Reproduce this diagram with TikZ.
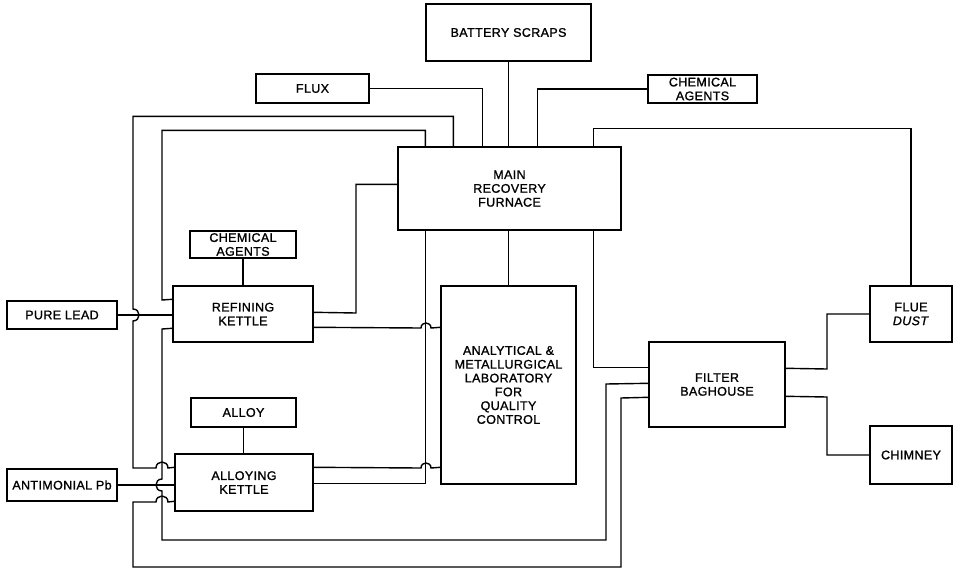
\documentclass[tikz,border=0pt]{standalone}
\usepackage{fontspec}
\setmainfont{Liberation Sans}[LetterSpace=3,FakeBold=1.2]
\usetikzlibrary{calc}
\tikzset{
  blk/.style={draw, line width=1.4pt, inner sep=0pt, align=center,
    font=\fontsize{12.5}{13.8}\selectfont},
  wire/.style={line width=1.4pt, line join=miter}
}
\begin{document}
\begin{tikzpicture}[x=1pt,y=-1pt]
\useasboundingbox[fill=white] (0,0) rectangle (953,568);
% boxes
\node[blk, minimum width=165pt, minimum height=57pt] (battery) at (508.5,32.5) {BATTERY SCRAPS};
\node[blk, minimum width=109pt, minimum height=28pt] (chemtop) at (702.5,89) {CHEMICAL\\AGENTS};
\node[blk, minimum width=113pt, minimum height=29pt] (flux) at (312.5,88.5) {FLUX};
\node[blk, minimum width=223pt, minimum height=83pt] (furnace) at (509.5,188.5) {MAIN\\RECOVERY\\FURNACE};
\node[blk, minimum width=106pt, minimum height=27pt] (chemleft) at (243,244.5) {CHEMICAL\\AGENTS};
\node[blk, minimum width=140pt, minimum height=56pt] (refining) at (243,314) {REFINING\\KETTLE};
\node[blk, minimum width=110pt, minimum height=28pt] (purelead) at (62,315) {PURE LEAD};
\node[blk, minimum width=135pt, minimum height=198pt] (lab) at (508.5,385) {ANALYTICAL \&\\METALLURGICAL\\LABORATORY\\FOR\\QUALITY\\CONTROL};
\node[blk, minimum width=136pt, minimum height=85pt] (filter) at (717,384.5) {FILTER\\BAGHOUSE};
\node[blk, minimum width=82pt, minimum height=56pt] (fluedust) at (911,314) {FLUE\\\textit{DUST}};
\node[blk, minimum width=82pt, minimum height=58pt] (chimney) at (911,455) {CHIMNEY};
\node[blk, minimum width=105pt, minimum height=29pt] (alloy) at (243.5,412.5) {ALLOY};
\node[blk, minimum width=138pt, minimum height=57pt] (alloying) at (244,482.5) {ALLOYING\\KETTLE};
\node[blk, minimum width=110pt, minimum height=32pt] (antimonial) at (62,485) {ANTIMONIAL Pb};
% connectors into furnace top
\draw[wire] (battery.south) -- (battery.south |- furnace.north);
\draw[wire] (flux.east) -| ($(furnace.north west)+(85,0)$);
\draw[wire] (chemtop.west) -| ($(furnace.north west)+(140,0)$);
% outer loop: furnace -> alloying kettle
\draw[wire] ($(furnace.north west)+(56,0)$) -- ++(0,-30) -| (133,309)
  .. controls (141,309) and (141,321) .. (133,321) -- (133,468) -- (156,468)
  .. controls (156,460) and (168,460) .. (168,468) -- ($(alloying.north west)+(0,14)$);
% inner loop: furnace -> refining kettle
\draw[wire] ($(furnace.north west)+(28,0)$) -- ++(0,-16) -| (162,300) -- ($(refining.north west)+(0,14)$);
% refining kettle -> furnace
\draw[wire] ($(refining.north east)+(0,27)$) -- (356,313) |- ($(furnace.north west)+(0,38)$);
% refining kettle -> lab
\draw[wire] ($(refining.north east)+(0,42)$) -- (421,328)
  .. controls (421,321.3) and (431,321.3) .. (431,328) -- ($(lab.north west)+(0,42)$);
% alloying kettle -> lab
\draw[wire] ($(alloying.north east)+(0,14)$) -- (421,468)
  .. controls (421,461.3) and (431,461.3) .. (431,468) -- ($(lab.north west)+(0,182)$);
% alloying kettle -> furnace bottom
\draw[wire] ($(alloying.north east)+(0,30)$) -| ($(furnace.south west)+(28,0)$);
% furnace -> lab
\draw[wire] (furnace.south -| lab.north) -- (lab.north);
% furnace -> filter
\draw[wire] ($(furnace.south west)+(196,0)$) |- ($(filter.north west)+(0,26)$);
% filter -> refining kettle (bottom inner loop)
\draw[wire] ($(filter.north west)+(0,42)$) -- (606,384) -- (606,540) -- (162,540) -- (162,491)
  .. controls (154,491) and (154,479) .. (162,479) -- (162,329) -- ($(refining.north west)+(0,43)$);
% filter -> alloying kettle (bottom outer loop)
\draw[wire] ($(filter.north west)+(0,56)$) -- (621,398) -- (621,567) -- (133,567) -- (133,502) -- (156,502)
  .. controls (156,494) and (168,494) .. (168,502) -- ($(alloying.north west)+(0,48)$);
% raw materials
\draw[wire] (antimonial.east) -- (antimonial.east -| alloying.west);
\draw[wire] (purelead.east) -- (purelead.east -| refining.west);
\draw[wire] (chemleft.south) -- (refining.north);
\draw[wire] (alloy.south) -- (alloy.south |- alloying.north);
% filter -> flue dust / chimney
\draw[wire] ($(filter.north east)+(0,27)$) -- (827,369) |- (fluedust.west);
\draw[wire] ($(filter.north east)+(0,55)$) -- (827,397) |- (chimney.west);
% furnace -> flue dust
\draw[wire] ($(furnace.north west)+(196,0)$) -- ++(0,-18) -| (fluedust.north);
\end{tikzpicture}
\end{document}
